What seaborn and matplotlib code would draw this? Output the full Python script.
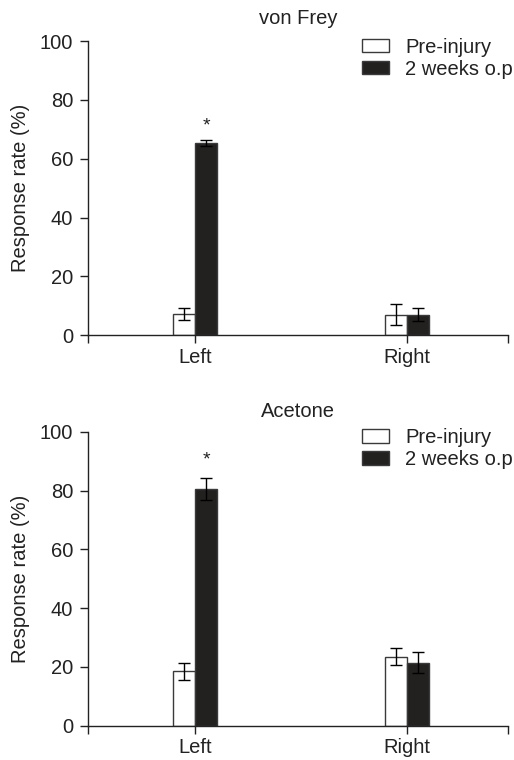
import pandas as pd
import seaborn as sns
import matplotlib.pyplot as plt

# data
sides = ['Left', 'Right']
groups = ['Pre-injury', '2 weeks o.p']

vf_pre = [7.3, 7.0]
vf_post = [65.3, 7.0]
vf_pre_err = [2.0, 3.7]
vf_post_err = [1.1, 2.3]

ac_pre = [18.5, 23.5]
ac_post = [80.5, 21.5]
ac_pre_err = [2.8, 2.8]
ac_post_err = [3.7, 3.5]

# baseline of the significance star, in data units
star_pos = {'von Frey': 69.7, 'Acetone': 89.0}
title_pad = {'von Frey': 12.5, 'Acetone': 10.5}

sns.set_style('ticks')
plt.rcParams['font.family'] = ['Liberation Sans', 'DejaVu Sans']

fig = plt.figure(figsize=(5.14, 7.6), dpi=100)
ax_top = fig.add_axes([0.171, 0.559, 0.817, 0.387])
ax_bot = fig.add_axes([0.171, 0.045, 0.817, 0.387])

panels = [
    (ax_top, 'von Frey', vf_pre, vf_post, vf_pre_err, vf_post_err),
    (ax_bot, 'Acetone', ac_pre, ac_post, ac_pre_err, ac_post_err),
]

txt = '#222222'

for ax, title, pre, post, pre_err, post_err in panels:
    df = pd.DataFrame({
        'side': sides * 2,
        'group': [groups[0]] * 2 + [groups[1]] * 2,
        'rate': pre + post,
    })
    sns.barplot(data=df, x='side', y='rate', hue='group', hue_order=groups,
                palette=['white', '#231f20'], width=0.21, errorbar=None,
                edgecolor='#3a3a3a', linewidth=1.0, ax=ax)

    # error bars on each bar
    for cont, errs in zip(ax.containers, [pre_err, post_err]):
        for bar, e in zip(cont, errs):
            cx = bar.get_x() + bar.get_width() / 2
            ax.errorbar(cx, bar.get_height(), yerr=e, color='black',
                        capsize=4.3, elinewidth=1.0, capthick=1.0, fmt='none')

    # significance star over the left black bar
    star_bar = ax.containers[1][0]
    ax.text(star_bar.get_x() + star_bar.get_width() / 2, star_pos[title], '*',
            ha='center', va='baseline', fontsize=14, color=txt)

    ax.set_xlim(-0.505, 1.476)
    ax.set_ylim(0, 100)
    ax.set_yticks([0, 20, 40, 60, 80, 100])
    ax.set_xticks([-0.505, 0, 1, 1.476])
    ax.set_xticklabels(['', 'Left', 'Right', ''])
    ax.tick_params(axis='both', labelsize=14.5, colors=txt, length=6, width=1, pad=4.5)
    ax.tick_params(axis='x', pad=3)
    ax.set_xlabel('')
    ax.set_ylabel('Response rate (%)', fontsize=14.5, color=txt, labelpad=7)
    ax.set_title(title, fontsize=14.5, color=txt, pad=title_pad[title])
    for s in ['left', 'bottom']:
        ax.spines[s].set_color(txt)
        ax.spines[s].set_linewidth(1.0)
    sns.despine(ax=ax)

    leg = ax.legend(loc='upper right', frameon=False, fontsize=14.5,
                    handlelength=1.35, handleheight=0.67, borderaxespad=0.0,
                    borderpad=0.0, labelspacing=0.15, handletextpad=0.8,
                    bbox_to_anchor=(1.012, 1.012))
    for t in leg.get_texts():
        t.set_color(txt)

plt.savefig('out.png', dpi=100)
